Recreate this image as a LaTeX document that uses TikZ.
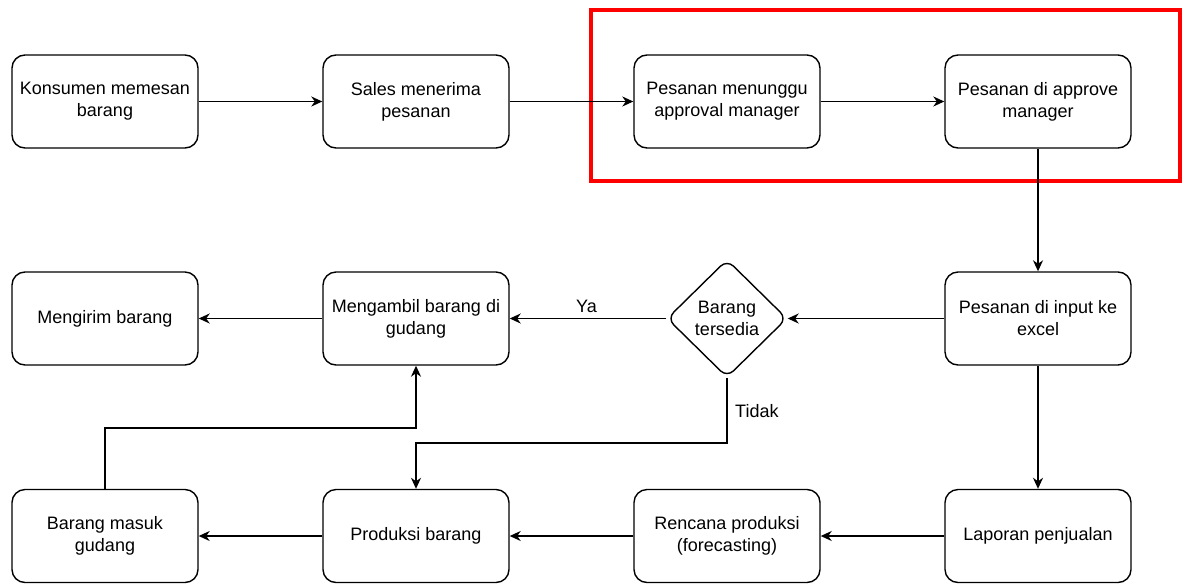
\documentclass[tikz,border=0pt]{standalone}
\usepackage{fontspec}
\setmainfont{Liberation Sans}
\usetikzlibrary{shapes.geometric,arrows.meta}
\begin{document}
\begin{tikzpicture}[x=1pt,y=-1pt,
  proc/.style={draw=black, line width=1.4pt, rounded corners=13pt, minimum width=186pt, minimum height=93pt, align=center, inner sep=2pt, font=\fontsize{18}{22}\selectfont},
  decis/.style={draw=black, line width=1.4pt, diamond, rounded corners=9pt, minimum width=120pt, minimum height=118pt, align=center, inner sep=0pt, font=\fontsize{18}{22}\selectfont},
  lbl/.style={font=\fontsize{18}{22}\selectfont, inner sep=1pt},
  conn/.style={line width=1.5pt, -{Stealth[length=11pt,width=10pt,inset=3.5pt]}}
]
\useasboundingbox (0,0) rectangle (1182,584);
\draw[red, line width=4pt] (591,10) rectangle (1180,181);

\node[proc] (a1) at (105,101.5) {Konsumen memesan\\barang};
\node[proc] (a2) at (416,101.5) {Sales menerima\\pesanan};
\node[proc] (a3) at (727,101.5) {Pesanan menunggu\\approval manager};
\node[proc] (a4) at (1038,101.5) {Pesanan di approve\\manager};

\node[proc] (b1) at (105,318.5) {Mengirim barang};
\node[proc] (b2) at (416,318.5) {Mengambil barang di\\gudang};
\node[decis] (d) at (727,318.5) {Barang\\tersedia};
\node[proc] (b4) at (1038,318.5) {Pesanan di input ke\\excel};

\node[proc] (c1) at (105,536) {Barang masuk\\gudang};
\node[proc] (c2) at (416,536) {Produksi barang};
\node[proc] (c3) at (727,536) {Rencana produksi\\(forecasting)};
\node[proc] (c4) at (1038,536) {Laporan penjualan};

\draw[conn] (a1) -- (a2);
\draw[conn] (a2) -- (a3);
\draw[conn] (a3) -- (a4);
\draw[conn] (a4) -- (b4);
\draw[conn] (b4) -- (d);
\draw[conn] (d) -- node[lbl, above=4pt, pos=0.51] (ya) {Ya} (b2);
\draw[conn] (b2) -- (b1);
\draw[conn] (b4) -- (c4);
\draw[conn] (c4) -- (c3);
\draw[conn] (c3) -- (c2);
\draw[conn] (c2) -- (c1);
\coordinate (t1) at (727,443);
\coordinate (t2) at (416,443);
\draw[conn] (d.south) -- (t1) -- (t2) -- (c2.north);
\node[lbl, anchor=west] (tidak) at (734,411) {Tidak};
\coordinate (m1) at (105,428);
\coordinate (m2) at (416,428);
\draw[conn] (c1.north) -- (m1) -- (m2) -- (b2.south);
\end{tikzpicture}
\end{document}
